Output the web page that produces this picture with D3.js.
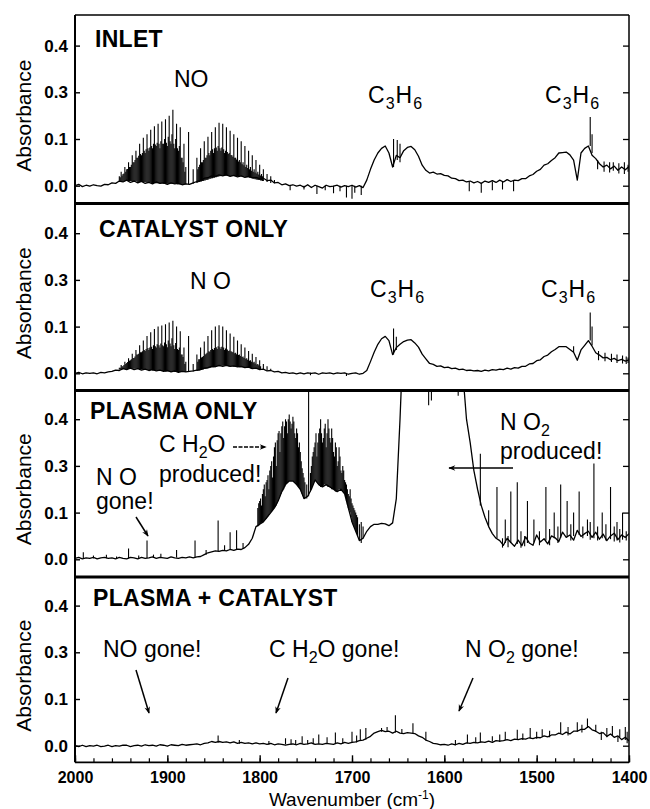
<!DOCTYPE html>
<html><head><meta charset="utf-8">
<script src="https://cdnjs.cloudflare.com/ajax/libs/d3/7.8.5/d3.min.js"></script>
<style>body{margin:0;background:#fff}text{font-family:"Liberation Sans",Arial,Helvetica,sans-serif;fill:#000}</style>
</head><body><svg id="c" width="650" height="809"></svg>
<script>
// sampling grid of the spectra (cm-1), 2000 -> 1400 every 4
const wavenumbers = d3.range(2000, 1399, -4);
const xTicks = [2000, 1900, 1800, 1700, 1600, 1500, 1400];
const xTickLabels = ["2000", "1900", "1800", "1700", "1600", "1500", "1400"];
const xMinorTicks = d3.range(2000, 1399, -20);
const yTickValues = [0.0, 0.1, 0.3, 0.4];
const yTickLabels = ["0.0", "0.1", "0.3", "0.4"];
const panelTitles = ["INLET", "CATALYST ONLY", "PLASMA ONLY", "PLASMA + CATALYST"];

// ---- INLET
const inletBase = [
 0.000,0.003,-0.002,0.001,-0.001,0.002,0.000,-0.001,0.003,0.002,
 0.006,0.005,0.010,0.008,0.012,0.007,0.010,0.006,0.009,0.005,
 0.007,0.004,0.008,0.005,0.006,0.003,0.006,0.004,0.005,0.002,
 0.004,0.003,0.006,0.009,0.011,0.016,0.017,0.021,0.020,0.023,
 0.021,0.023,0.020,0.022,0.019,0.021,0.018,0.020,0.017,0.018,
 0.015,0.016,0.011,0.012,0.006,0.007,0.002,0.004,0.000,0.002,
 -0.001,0.001,-0.003,0.002,-0.004,0.001,-0.002,-0.005,0.001,-0.002,
 -0.001,0.001,-0.003,0.000,-0.002,0.001,-0.003,0.000,-0.004,0.012,
 0.035,0.055,0.070,0.080,0.085,0.070,0.040,0.065,0.060,0.075,
 0.082,0.084,0.077,0.063,0.044,0.033,0.027,0.029,0.025,0.026,
 0.022,0.021,0.016,0.015,0.011,0.012,0.008,0.010,0.006,0.009,
 0.005,0.010,0.007,0.011,0.007,0.012,0.008,0.013,0.009,0.012,
 0.011,0.015,0.015,0.021,0.024,0.031,0.035,0.044,0.047,0.054,
 0.060,0.070,0.071,0.072,0.066,0.055,0.012,0.070,0.080,0.085,
 0.065,0.058,0.047,0.040,0.044,0.036,0.042,0.033,0.040,0.034,0.041
];
// narrow lines: [wavenumber, low, high]
const inletLines = [
 [1952,0.009,0.02],[1950,0.009,0.03],[1948,0.009,0.025],[1946,0.010,0.04],[1944,0.010,0.035],
 [1942,0.010,0.05],[1940,0.010,0.04],[1938,0.010,0.065],[1936,0.010,0.05],[1934,0.010,0.075],
 [1932,0.008,0.06],[1930,0.008,0.09],[1928,0.008,0.065],[1926,0.008,0.105],[1924,0.008,0.07],
 [1922,0.007,0.12],[1920,0.006,0.075],[1918,0.007,0.14],[1916,0.006,0.08],[1914,0.006,0.155],
 [1912,0.005,0.085],[1910,0.005,0.165],[1908,0.005,0.08],[1906,0.005,0.175],[1904,0.004,0.09],
 [1902,0.004,0.185],[1900,0.004,0.085],[1898,0.004,0.2],[1896,0.004,0.09],[1894,0.004,0.225],
 [1892,0.004,0.08],[1890,0.004,0.165],[1888,0.003,0.075],[1886,0.003,0.15],[1884,0.003,0.06],
 [1882,0.003,0.09],[1880,0.003,0.04],[1877,0.003,0.13],[1872,0.004,0.035],
 [1951,0.009,0.018],[1949,0.009,0.022],[1947,0.009,0.026],[1945,0.010,0.03],[1943,0.010,0.036],
 [1941,0.010,0.04],[1939,0.010,0.045],[1937,0.010,0.05],[1935,0.010,0.055],[1933,0.009,0.06],
 [1931,0.008,0.064],[1929,0.008,0.068],[1927,0.008,0.07],[1925,0.008,0.075],[1923,0.007,0.078],
 [1921,0.007,0.08],[1919,0.006,0.082],[1917,0.006,0.085],[1915,0.006,0.09],[1913,0.005,0.088],
 [1911,0.005,0.092],[1909,0.005,0.09],[1907,0.005,0.095],[1905,0.005,0.09],[1903,0.004,0.10],
 [1901,0.004,0.092],[1899,0.004,0.11],[1897,0.004,0.095],[1895,0.004,0.12],[1893,0.004,0.09],
 [1891,0.004,0.10],[1889,0.003,0.08],[1887,0.003,0.085],[1885,0.003,0.06],[1883,0.003,0.05],
 [1881,0.003,0.03],
 [1868,0.006,0.06],[1866,0.008,0.04],[1864,0.009,0.08],[1862,0.010,0.05],[1860,0.011,0.095],
 [1858,0.012,0.06],[1856,0.013,0.11],[1854,0.015,0.065],[1852,0.016,0.13],[1850,0.017,0.07],
 [1848,0.018,0.15],[1846,0.019,0.075],[1844,0.020,0.17],[1842,0.021,0.075],[1840,0.022,0.165],
 [1838,0.022,0.07],[1836,0.022,0.15],[1834,0.022,0.068],[1832,0.021,0.135],[1830,0.021,0.065],
 [1828,0.021,0.12],[1826,0.020,0.06],[1824,0.020,0.105],[1822,0.020,0.055],[1820,0.020,0.095],
 [1818,0.019,0.05],[1816,0.019,0.085],[1814,0.018,0.045],[1812,0.018,0.075],[1810,0.017,0.04],
 [1808,0.016,0.065],[1806,0.015,0.035],[1804,0.014,0.055],[1802,0.013,0.03],[1800,0.012,0.045],
 [1798,0.011,0.025],[1796,0.010,0.035],[1792,0.008,0.025],[1788,0.006,0.02],[1784,0.005,0.012],
 [1867,0.007,0.035],[1865,0.008,0.045],[1863,0.009,0.05],[1861,0.010,0.055],[1859,0.011,0.06],
 [1857,0.012,0.065],[1855,0.014,0.07],[1853,0.015,0.075],[1851,0.016,0.078],[1849,0.017,0.08],
 [1847,0.018,0.082],[1845,0.019,0.085],[1843,0.020,0.08],[1841,0.021,0.082],[1839,0.022,0.078],
 [1837,0.022,0.075],[1835,0.022,0.072],[1833,0.021,0.07],[1831,0.021,0.066],[1829,0.021,0.062],
 [1827,0.020,0.06],[1825,0.020,0.056],[1823,0.020,0.052],[1821,0.020,0.05],[1819,0.019,0.046],
 [1817,0.019,0.044],[1815,0.018,0.04],[1813,0.018,0.038],[1811,0.017,0.035],[1809,0.016,0.032],
 [1807,0.015,0.03],[1805,0.014,0.028],[1803,0.013,0.026],[1801,0.012,0.024],[1799,0.011,0.022],
 [1797,0.010,0.02],
 [1767,-0.010,0.001],[1738,-0.018,0.0],[1720,-0.016,0.0],[1706,-0.025,0.0],[1700,-0.028,0.0],
 [1697,-0.015,0.0],[1690,-0.020,0.0],[1752,-0.008,0.0],[1729,-0.010,0.0],[1713,-0.012,0.0],
 [1655,0.040,0.10],[1651,0.055,0.098],[1648,0.050,0.09],
 [1573,-0.012,0.008],[1560,-0.015,0.006],[1548,-0.010,0.009],[1537,-0.008,0.010],[1525,-0.012,0.011],
 [1442,0.085,0.194],[1440,0.070,0.12],
 [1434,0.035,0.055],[1427,0.030,0.052],[1421,0.028,0.05],[1417,0.032,0.05],[1411,0.026,0.048],
 [1405,0.025,0.05],[1401,0.030,0.045]
];

// ---- CATALYST ONLY
const catalystBase = [
 0.000,0.002,-0.001,0.001,0.000,0.001,-0.001,0.002,0.001,0.003,
 0.004,0.007,0.006,0.010,0.008,0.011,0.008,0.010,0.007,0.009,
 0.006,0.008,0.005,0.007,0.004,0.006,0.003,0.005,0.002,0.004,
 0.003,0.004,0.005,0.007,0.008,0.011,0.012,0.015,0.014,0.017,
 0.015,0.017,0.015,0.016,0.014,0.015,0.012,0.013,0.010,0.011,
 0.008,0.009,0.005,0.006,0.003,0.004,0.001,0.002,0.000,0.001,
 -0.001,0.001,-0.001,0.001,0.000,0.001,-0.002,0.001,0.000,0.001,
 -0.001,0.001,0.000,0.001,-0.002,0.000,0.001,-0.002,0.000,0.006,
 0.025,0.045,0.062,0.074,0.079,0.070,0.040,0.055,0.062,0.068,
 0.071,0.072,0.065,0.056,0.041,0.031,0.021,0.019,0.015,0.016,
 0.012,0.013,0.010,0.011,0.008,0.009,0.006,0.007,0.005,0.006,
 0.004,0.007,0.005,0.008,0.007,0.009,0.008,0.011,0.009,0.012,
 0.011,0.015,0.015,0.020,0.021,0.027,0.029,0.036,0.039,0.046,
 0.051,0.057,0.057,0.057,0.051,0.045,0.028,0.050,0.060,0.070,
 0.058,0.044,0.039,0.033,0.034,0.029,0.032,0.027,0.030,0.026,0.029
];
const catalystLines = [
 [1952,0.008,0.012],[1950,0.008,0.018],[1948,0.009,0.015],[1946,0.009,0.025],[1944,0.009,0.022],
 [1942,0.010,0.032],[1940,0.010,0.028],[1938,0.010,0.042],[1936,0.010,0.033],[1934,0.010,0.05],
 [1932,0.009,0.04],[1930,0.009,0.06],[1928,0.008,0.045],[1926,0.008,0.07],[1924,0.008,0.048],
 [1922,0.007,0.08],[1920,0.007,0.05],[1918,0.007,0.088],[1916,0.006,0.052],[1914,0.006,0.095],
 [1912,0.006,0.055],[1910,0.005,0.10],[1908,0.005,0.055],[1906,0.005,0.105],[1904,0.005,0.058],
 [1902,0.004,0.11],[1900,0.004,0.056],[1898,0.004,0.118],[1896,0.004,0.058],[1894,0.004,0.125],
 [1892,0.003,0.052],[1890,0.003,0.10],[1888,0.003,0.05],[1886,0.003,0.09],[1884,0.003,0.04],
 [1882,0.003,0.055],[1880,0.003,0.025],[1877,0.003,0.08],[1872,0.004,0.02],
 [1951,0.008,0.012],[1949,0.008,0.015],[1947,0.009,0.018],[1945,0.009,0.02],[1943,0.009,0.024],
 [1941,0.010,0.027],[1939,0.010,0.03],[1937,0.010,0.033],[1935,0.010,0.036],[1933,0.010,0.04],
 [1931,0.009,0.042],[1929,0.009,0.045],[1927,0.008,0.047],[1925,0.008,0.05],[1923,0.008,0.052],
 [1921,0.007,0.054],[1919,0.007,0.055],[1917,0.007,0.057],[1915,0.006,0.06],[1913,0.006,0.058],
 [1911,0.006,0.062],[1909,0.005,0.06],[1907,0.005,0.064],[1905,0.005,0.06],[1903,0.005,0.066],
 [1901,0.004,0.062],[1899,0.004,0.07],[1897,0.004,0.064],[1895,0.004,0.075],[1893,0.004,0.06],
 [1891,0.003,0.065],[1889,0.003,0.052],[1887,0.003,0.055],[1885,0.003,0.04],[1883,0.003,0.035],
 [1881,0.003,0.02],
 [1868,0.005,0.04],[1866,0.006,0.03],[1864,0.007,0.055],[1862,0.008,0.035],[1860,0.009,0.068],
 [1858,0.010,0.042],[1856,0.011,0.08],[1854,0.012,0.046],[1852,0.013,0.092],[1850,0.013,0.05],
 [1848,0.014,0.10],[1846,0.015,0.052],[1844,0.015,0.106],[1842,0.016,0.052],[1840,0.016,0.10],
 [1838,0.016,0.05],[1836,0.016,0.092],[1834,0.015,0.048],[1832,0.015,0.085],[1830,0.015,0.046],
 [1828,0.014,0.078],[1826,0.014,0.044],[1824,0.014,0.07],[1822,0.013,0.04],[1820,0.013,0.062],
 [1818,0.013,0.036],[1816,0.012,0.055],[1814,0.012,0.032],[1812,0.012,0.048],[1810,0.011,0.028],
 [1808,0.011,0.042],[1806,0.010,0.025],[1804,0.010,0.035],[1802,0.009,0.02],[1800,0.009,0.028],
 [1796,0.008,0.02],[1792,0.006,0.015],[1788,0.005,0.01],
 [1867,0.005,0.025],[1865,0.006,0.03],[1863,0.007,0.034],[1861,0.008,0.037],[1859,0.009,0.04],
 [1857,0.010,0.044],[1855,0.011,0.047],[1853,0.012,0.05],[1851,0.013,0.052],[1849,0.014,0.054],
 [1847,0.014,0.056],[1845,0.015,0.058],[1843,0.015,0.056],[1841,0.016,0.057],[1839,0.016,0.055],
 [1837,0.016,0.053],[1835,0.016,0.051],[1833,0.015,0.049],[1831,0.015,0.047],[1829,0.015,0.045],
 [1827,0.014,0.043],[1825,0.014,0.041],[1823,0.014,0.039],[1821,0.013,0.037],[1819,0.013,0.035],
 [1817,0.013,0.033],[1815,0.012,0.031],[1813,0.012,0.029],[1811,0.012,0.027],[1809,0.011,0.025],
 [1807,0.011,0.023],[1805,0.010,0.021],[1803,0.010,0.019],[1801,0.009,0.017],[1799,0.009,0.015],
 [1706,-0.006,0.0],[1745,-0.004,0.001],
 [1655,0.040,0.096],[1652,0.050,0.078],
 [1442,0.070,0.16],[1440,0.060,0.10],[1460,0.045,0.058],
 [1433,0.028,0.048],[1426,0.026,0.044],[1419,0.024,0.042],[1413,0.022,0.04],[1407,0.021,0.038],
 [1403,0.020,0.036],[1401,0.022,0.034]
];

// ---- PLASMA ONLY
const plasmaBase = [
 0.002,0.004,0.001,0.003,0.002,0.004,0.001,0.003,0.004,0.002,
 0.003,0.001,0.004,0.002,0.001,0.004,0.003,0.001,0.004,0.002,
 0.003,0.005,0.002,0.004,0.003,0.002,0.005,0.003,0.002,0.004,
 0.003,0.005,0.003,0.005,0.006,0.010,0.014,0.016,0.018,0.017,
 0.019,0.018,0.021,0.019,0.022,0.021,0.025,0.032,0.045,0.070,
 0.075,0.080,0.090,0.100,0.120,0.150,0.190,0.220,0.235,0.235,
 0.220,0.200,0.160,0.170,0.200,0.240,0.220,0.210,0.220,0.210,
 0.200,0.190,0.200,0.180,0.120,0.080,0.060,0.040,0.045,0.060,
 0.070,0.075,0.075,0.077,0.076,0.072,0.078,0.160,0.400,0.600,
 0.600,0.600,0.600,0.600,0.600,0.600,0.600,0.600,0.600,0.600,
 0.600,0.600,0.600,0.600,0.600,0.500,0.400,0.350,0.280,0.200,
 0.130,0.090,0.070,0.055,0.045,0.040,0.030,0.045,0.036,0.028,
 0.041,0.029,0.048,0.035,0.030,0.052,0.037,0.044,0.033,0.050,
 0.046,0.038,0.058,0.047,0.052,0.041,0.062,0.049,0.055,0.060,
 0.047,0.058,0.043,0.054,0.040,0.050,0.056,0.042,0.052,0.047,0.055
];
const plasmaLines = [
 [1991,0.002,0.015],[1980,0.002,0.008],[1966,0.002,0.010],[1955,0.002,0.006],[1942,0.002,0.023],
 [1931,0.002,0.008],[1922,0.003,0.04],[1915,0.003,0.010],[1907,0.003,0.012],[1890,0.004,0.02],
 [1870,0.004,0.04],[1858,0.010,0.02],[1845,0.017,0.083],[1838,0.018,0.03],[1832,0.020,0.058],
 [1825,0.021,0.062],[1818,0.022,0.035],
 [1802,0.070,0.12],[1800,0.075,0.15],[1798,0.078,0.13],[1796,0.080,0.20],[1794,0.085,0.17],
 [1792,0.090,0.24],[1790,0.095,0.20],[1788,0.100,0.30],[1786,0.110,0.25],[1784,0.120,0.34],
 [1782,0.130,0.30],[1780,0.150,0.37],[1778,0.170,0.33],[1776,0.190,0.385],[1774,0.200,0.36],
 [1772,0.220,0.40],[1770,0.230,0.37],[1768,0.235,0.41],[1766,0.235,0.38],[1764,0.235,0.405],
 [1762,0.230,0.37],[1760,0.220,0.38],[1758,0.210,0.34],[1756,0.200,0.33],[1754,0.180,0.29],
 [1752,0.160,0.25],[1747,0.170,0.60],[1744,0.200,0.30],[1742,0.220,0.33],[1740,0.240,0.35],
 [1738,0.230,0.32],[1736,0.220,0.37],[1734,0.210,0.40],[1732,0.210,0.35],[1730,0.220,0.38],
 [1728,0.220,0.34],[1726,0.210,0.40],[1724,0.210,0.36],[1722,0.200,0.38],[1720,0.200,0.33],
 [1718,0.190,0.35],[1716,0.190,0.30],[1714,0.200,0.34],[1712,0.200,0.28],[1710,0.190,0.30],
 [1708,0.180,0.24],[1706,0.150,0.22],[1704,0.120,0.18],[1702,0.100,0.20],[1700,0.080,0.14],
 [1698,0.070,0.12],[1696,0.060,0.10],[1694,0.050,0.09],[1692,0.040,0.075],[1690,0.035,0.08],
 [1688,0.045,0.07],
 [1801,0.072,0.14],[1799,0.076,0.16],[1797,0.079,0.18],[1795,0.082,0.22],[1793,0.087,0.23],
 [1791,0.092,0.26],[1789,0.098,0.28],[1787,0.105,0.31],[1785,0.115,0.32],[1783,0.125,0.35],
 [1781,0.140,0.355],[1779,0.160,0.375],[1777,0.180,0.37],[1775,0.195,0.395],[1773,0.210,0.385],
 [1771,0.225,0.395],[1769,0.232,0.40],[1767,0.235,0.395],[1765,0.235,0.39],[1763,0.232,0.395],
 [1761,0.225,0.36],[1759,0.215,0.37],[1757,0.205,0.35],[1755,0.190,0.31],[1753,0.170,0.27],
 [1751,0.160,0.23],[1749,0.160,0.22],[1745,0.190,0.27],[1743,0.210,0.32],[1741,0.230,0.34],
 [1739,0.235,0.37],[1737,0.225,0.35],[1735,0.215,0.38],[1733,0.210,0.37],[1731,0.215,0.36],
 [1729,0.220,0.39],[1727,0.215,0.37],[1725,0.210,0.38],[1723,0.205,0.35],[1721,0.200,0.36],
 [1719,0.195,0.32],[1717,0.190,0.34],[1715,0.195,0.31],[1713,0.200,0.32],[1711,0.195,0.27],
 [1709,0.185,0.28],[1707,0.165,0.23],[1705,0.135,0.20],[1703,0.110,0.17],[1701,0.090,0.16],
 [1699,0.075,0.13],[1697,0.065,0.11],[1695,0.055,0.095],
 [1617,0.430,0.60],[1614,0.440,0.60],[1585,0.450,0.60],
 [1561,0.130,0.326],[1552,0.070,0.11],[1543,0.045,0.21],[1534,0.035,0.085],[1528,0.035,0.19],
 [1521,0.033,0.23],[1510,0.035,0.15],[1503,0.036,0.085],[1490,0.040,0.21],[1481,0.045,0.10],
 [1474,0.046,0.22],[1467,0.048,0.15],[1460,0.050,0.10],[1454,0.052,0.19],[1445,0.050,0.085],
 [1438,0.045,0.305],[1429,0.045,0.10],[1420,0.043,0.21],[1413,0.040,0.08],[1407,0.042,0.10],
 [1537,0.025,0.045],[1531,0.026,0.05],[1517,0.025,0.06],[1513,0.028,0.05],[1497,0.030,0.06],
 [1486,0.030,0.065],[1477,0.035,0.07],[1463,0.040,0.075],[1450,0.045,0.07],[1442,0.042,0.08],
 [1434,0.040,0.07],[1425,0.040,0.075],[1416,0.038,0.07],[1410,0.036,0.065],[1403,0.040,0.06]
];

// ---- PLASMA + CATALYST
const bothBase = [
 0.000,-0.002,0.001,-0.002,0.000,-0.001,0.001,-0.002,-0.001,0.001,
 -0.002,0.000,-0.001,0.001,0.001,-0.002,0.000,0.001,-0.001,0.002,
 0.000,0.001,-0.001,0.002,0.001,-0.001,0.002,0.001,0.000,0.003,
 0.001,0.002,0.003,0.004,0.002,0.005,0.006,0.009,0.007,0.009,
 0.007,0.008,0.006,0.008,0.005,0.007,0.005,0.006,0.004,0.006,
 0.004,0.005,0.003,0.005,0.002,0.004,0.003,0.001,0.003,0.004,
 0.002,0.005,0.003,0.004,0.006,0.003,0.004,0.003,0.005,0.004,
 0.003,0.006,0.004,0.007,0.005,0.007,0.008,0.011,0.012,0.016,
 0.020,0.027,0.030,0.033,0.030,0.031,0.027,0.031,0.027,0.026,
 0.028,0.027,0.026,0.021,0.018,0.012,0.009,0.005,0.004,0.002,
 0.003,0.001,0.004,0.002,0.005,0.003,0.006,0.005,0.007,0.006,
 0.008,0.007,0.010,0.007,0.011,0.010,0.011,0.013,0.011,0.014,
 0.013,0.015,0.014,0.017,0.015,0.018,0.017,0.021,0.019,0.023,
 0.023,0.027,0.024,0.029,0.025,0.031,0.031,0.035,0.035,0.041,
 0.034,0.031,0.026,0.028,0.020,0.025,0.018,0.021,0.013,0.018,0.010
];
const bothLines = [
 [1845,0.007,0.022],[1772,0.003,0.016],[1761,0.003,0.012],[1754,0.004,0.02],[1736,0.004,0.024],
 [1718,0.004,0.028],[1700,0.006,0.03],[1691,0.010,0.035],[1685,0.013,0.038],[1668,0.030,0.038],
 [1662,0.030,0.04],[1653,0.028,0.065],[1646,0.026,0.036],[1634,0.027,0.048],[1620,0.011,0.03],
 [1575,0.005,0.024],[1561,0.007,0.028],[1548,0.009,0.02],[1534,0.012,0.03],[1521,0.014,0.034],
 [1507,0.016,0.038],[1494,0.020,0.035],[1474,0.025,0.05],[1456,0.030,0.05],[1445,0.038,0.058],
 [1436,0.030,0.045],[1430,0.012,0.03],[1418,0.022,0.042],[1412,0.008,0.02],[1410,0.018,0.035],
 [1404,0.012,0.04],[1402,0.005,0.03],
 [1822,0.004,0.012],[1790,0.002,0.01],[1766,0.002,0.014],[1748,0.003,0.012],[1742,0.003,0.016],
 [1727,0.004,0.018],[1710,0.004,0.016],[1695,0.007,0.022],[1588,0.001,0.012],[1566,0.005,0.018],
 [1540,0.008,0.024],[1515,0.012,0.026],[1500,0.015,0.03],[1486,0.018,0.032],[1466,0.022,0.04],
 [1451,0.028,0.045],[1424,0.018,0.038]
];

const svg = d3.select("#c");
const X0 = 75, X1 = 629;
const x = d3.scaleLinear().domain([2000, 1400]).range([X0, X1]);
const tickGap = 46.7;
const panels = [
  {title: panelTitles[0], base: inletBase, lines: inletLines, top: 15, bottom: 203.5, zero: 185.7, tx: 95, ty: 47},
  {title: panelTitles[1], base: catalystBase, lines: catalystLines, top: 203.5, bottom: 390.5, zero: 373.3, tx: 99, ty: 237},
  {title: panelTitles[2], base: plasmaBase, lines: plasmaLines, top: 390.5, bottom: 577, zero: 559.3, tx: 90, ty: 419},
  {title: panelTitles[3], base: bothBase, lines: bothLines, top: 577, bottom: 762.3, zero: 745.7, tx: 93, ty: 606}
];

const defs = svg.append("defs");
defs.append("marker").attr("id", "ah").attr("viewBox", "0 0 10 10").attr("refX", 9).attr("refY", 5)
  .attr("markerWidth", 9).attr("markerHeight", 7).attr("markerUnits", "userSpaceOnUse").attr("orient", "auto")
  .append("path").attr("d", "M0,1 L10,5 L0,9 L3,5 Z").attr("fill", "#000");

panels.forEach((p, k) => {
  const y = d3.scaleLinear().domain(yTickValues)
    .range(yTickValues.map((_, i) => p.zero - i * tickGap));
  defs.append("clipPath").attr("id", "clip" + k).append("rect")
    .attr("x", X0).attr("y", p.top).attr("width", X1 - X0).attr("height", p.bottom - p.top);
  const g = svg.append("g").attr("clip-path", `url(#clip${k})`);
  const line = d3.line().x((d, i) => x(wavenumbers[i])).y(d => y(d));
  g.append("path").datum(p.base).attr("d", line).attr("fill", "none")
    .attr("stroke", "#000").attr("stroke-width", 1.3).attr("stroke-linejoin", "round");
  g.selectAll("line.sp").data(p.lines).join("line").attr("class", "sp")
    .attr("x1", d => x(d[0])).attr("x2", d => x(d[0]))
    .attr("y1", d => y(d[1])).attr("y2", d => y(d[2]))
    .attr("stroke", "#000").attr("stroke-width", 1.1);

  const la = svg.append("g").attr("transform", `translate(${X0},0)`)
    .call(d3.axisLeft(y).tickValues(yTickValues).tickFormat((d, i) => yTickLabels[i])
      .tickSizeInner(-5).tickSizeOuter(0).tickPadding(7));
  la.select(".domain").remove();
  la.selectAll("line").attr("stroke-width", 1.4);
  la.selectAll("text").attr("font-size", 17).attr("font-weight", "bold")
    .attr("font-family", '"Liberation Sans", Arial, sans-serif');
  const ra = svg.append("g").attr("transform", `translate(${X1},0)`)
    .call(d3.axisRight(y).tickValues(yTickValues).tickFormat("").tickSizeInner(-6).tickSizeOuter(0));
  ra.select(".domain").remove();
  ra.selectAll("line").attr("stroke-width", 1.3);

  svg.append("text").attr("transform", `translate(31,${p.zero - 1.5 * tickGap}) rotate(-90)`)
    .attr("text-anchor", "middle").attr("font-size", 21).text("Absorbance");
  svg.append("text").attr("x", p.tx).attr("y", p.ty).attr("font-size", 23)
    .attr("font-weight", "bold").attr("letter-spacing", 0.3).text(p.title);
});

// frame
svg.append("line").attr("x1", X0).attr("x2", X0).attr("y1", 15).attr("y2", 762.3).attr("stroke", "#000").attr("stroke-width", 2);
svg.append("line").attr("x1", X1).attr("x2", X1).attr("y1", 15).attr("y2", 762.3).attr("stroke", "#000").attr("stroke-width", 1.5);
svg.append("line").attr("x1", X0).attr("x2", X1).attr("y1", 15).attr("y2", 15).attr("stroke", "#000").attr("stroke-width", 1.5);
[203.5, 390.5, 577].forEach(yy => svg.append("line").attr("x1", X0).attr("x2", X1)
  .attr("y1", yy).attr("y2", yy).attr("stroke", "#000").attr("stroke-width", 3));
svg.append("line").attr("x1", X0).attr("x2", X1).attr("y1", 762.3).attr("y2", 762.3).attr("stroke", "#000").attr("stroke-width", 1.8);

// x axis
const xa = svg.append("g").attr("transform", "translate(0,762.3)")
  .call(d3.axisBottom(x).tickValues(xTicks).tickFormat((d, i) => xTickLabels[i])
    .tickSizeInner(-7).tickSizeOuter(0).tickPadding(9));
xa.select(".domain").remove();
xa.selectAll("line").attr("stroke-width", 1.4);
xa.selectAll("text").attr("font-size", 16).attr("font-weight", "bold")
  .attr("font-family", '"Liberation Sans", Arial, sans-serif');
const xm = svg.append("g").attr("transform", "translate(0,762.3)")
  .call(d3.axisBottom(x).tickValues(xMinorTicks).tickFormat("").tickSizeInner(-4).tickSizeOuter(0));
xm.select(".domain").remove();
xm.selectAll("line").attr("stroke-width", 1.2);

const xt = svg.append("text").attr("x", 352).attr("y", 806).attr("text-anchor", "middle").attr("font-size", 19);
xt.append("tspan").text("Wavenumber (cm");
xt.append("tspan").attr("font-size", 12).attr("dy", -7).text("-1");
xt.append("tspan").attr("dy", 7).text(")");

// annotations
const AF = 23;
function label(xp, yp, parts, ls) {
  const t = svg.append("text").attr("x", xp).attr("y", yp).attr("font-size", AF);
  if (ls) t.attr("letter-spacing", ls);
  parts.forEach(pt => {
    if (typeof pt === "string") t.append("tspan").text(pt);
    else t.append("tspan").attr("font-size", pt.big ? AF : 16).attr("dy", pt.dy).text(pt.t);
  });
  return t;
}
function arrow(xa1, ya1, xa2, ya2, dash) {
  const l = svg.append("line").attr("x1", xa1).attr("y1", ya1).attr("x2", xa2).attr("y2", ya2)
    .attr("stroke", "#000").attr("stroke-width", 1.5).attr("marker-end", "url(#ah)");
  if (dash) l.attr("stroke-dasharray", dash);
}
const C3H6 = ["C", {t: "3", dy: 6}, {t: "H", dy: -6, big: true}, {t: "6", dy: 6}];
label(174, 87, ["NO"]);
[[368, 103], [545, 103], [370, 297], [541, 297]].forEach(([a, b]) => label(a, b, C3H6, 1));
label(190, 289, ["N O"]);

// plasma only
label(159, 452, ["C H", {t: "2", dy: 6}, {t: "O", dy: -6, big: true}]);
arrow(233, 447, 266, 447, "4,1.5");
label(159, 482, ["produced!"]);
label(96, 485, ["N O"]);
label(96, 509, ["gone!"]);
arrow(136, 517, 148, 536);
label(500, 430, ["N O", {t: "2", dy: 6}]);
label(500, 459, ["produced!"]);
arrow(513, 468, 449, 468);

// plasma + catalyst
label(103, 657, ["NO gone!"]);
label(269, 657, ["C H", {t: "2", dy: 6}, {t: "O gone!", dy: -6, big: true}]);
label(465, 657, ["N O", {t: "2", dy: 6}, {t: " gone!", dy: -6, big: true}]);
arrow(136, 670, 149, 713);
arrow(288, 678, 276, 713);
arrow(473, 678, 459, 711);
</script></body></html>
